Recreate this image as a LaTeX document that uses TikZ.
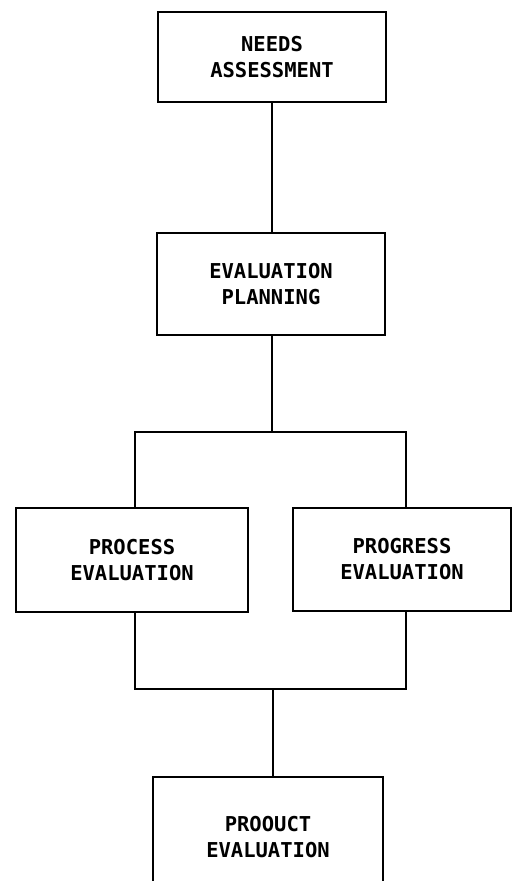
\documentclass[tikz,border=0pt]{standalone}
\usepackage{fontspec}
\newfontfamily\boxfont{DejaVu Sans Mono}
\begin{document}
\begin{tikzpicture}[x=1pt,y=-1pt,
  box/.style={draw, line width=2.3pt, rectangle, align=center, inner sep=0pt,
    font=\boxfont\bfseries\fontsize{20.5}{26}\selectfont},
  link/.style={line width=2.3pt}]
\useasboundingbox (0,0) rectangle (515,881);
\clip (0,0) rectangle (515,881);
\node[box, minimum width=228, minimum height=90] (needs) at (272,57) {NEEDS\\ASSESSMENT};
\node[box, minimum width=228, minimum height=102] (plan) at (271,284) {EVALUATION\\PLANNING};
\node[box, minimum width=232, minimum height=104] (proc) at (132,560) {PROCESS\\EVALUATION};
\node[box, minimum width=218, minimum height=103] (prog) at (402,559.5) {PROGRESS\\EVALUATION};
\node[box, minimum width=230, minimum height=120] (prod) at (268,837) {PROOUCT\\EVALUATION};
\coordinate (split) at (272,432);
\coordinate (tl) at (135,432);
\coordinate (tr) at (406,432);
\coordinate (bl) at (135,689);
\coordinate (br) at (406,689);
\coordinate (join) at (273,689);
\draw[link] (needs.south) -- (needs.south |- plan.north);
\draw[link] (plan.south -| split) -- (split);
\draw[link] (tl |- proc.north) -- (tl) -- (tr) -- (tr |- prog.north);
\draw[link] (bl |- proc.south) -- (bl) -- (br) -- (br |- prog.south);
\draw[link] (join) -- (join |- prod.north);
\end{tikzpicture}
\end{document}
